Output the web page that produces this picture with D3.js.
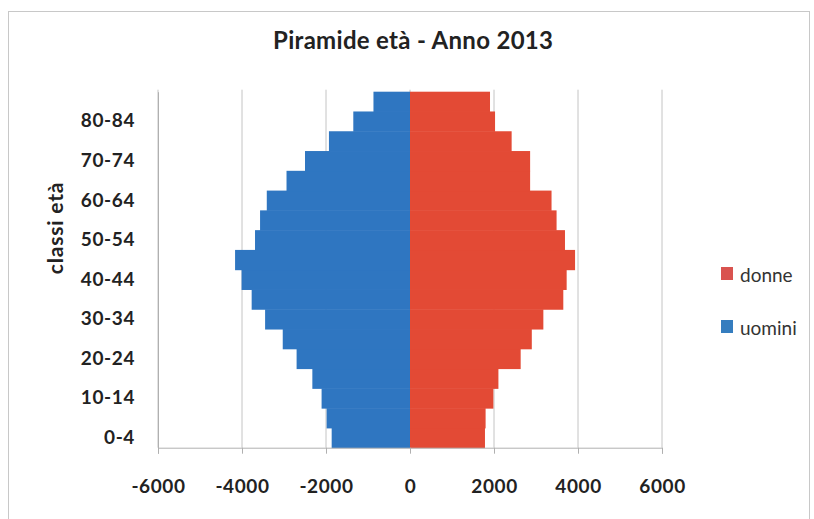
<!DOCTYPE html>
<html>
<head>
<meta charset="utf-8">
<script src="https://cdn.jsdelivr.net/npm/d3@7"></script>
<style>
  html, body { margin: 0; padding: 0; background: #fff; }
  svg { display: block; }
  text { font-family: Lato, "Open Sans", sans-serif; }
</style>
</head>
<body>
<svg id="chart" width="814" height="519"></svg>
<script>
// Age classes, youngest first
const classes = ["0-4","5-9","10-14","15-19","20-24","25-29","30-34","35-39","40-44",
                 "45-49","50-54","55-59","60-64","65-69","70-74","75-79","80-84","85+"];
// Residents per class, 2013
const uomini = [1865, 1985, 2105, 2325, 2700, 3030, 3450, 3770, 4010,
                4165, 3690, 3570, 3410, 2940, 2500, 1930, 1350, 870];
const donne  = [1785, 1800, 1985, 2105, 2635, 2900, 3175, 3650, 3730,
                3930, 3690, 3490, 3370, 2860, 2860, 2420, 2025, 1905];
const xTicks = [-6000, -4000, -2000, 0, 2000, 4000, 6000];
const shownClasses = ["0-4","10-14","20-24","30-34","40-44","50-54","60-64","70-74","80-84"];

const colors = { donne: "#e34a35", uomini: "#2f76c1" };
const legendColors = { donne: "#d9534f", uomini: "#357dbf" };

const svg = d3.select("#chart");
const plot = { left: 158, right: 662, top: 91.7, bottom: 447.7 };

// Outer chart frame
svg.append("rect")
  .attr("x", 8.5).attr("y", 11.5).attr("width", 801).attr("height", 600)
  .attr("fill", "none").attr("stroke", "#c8c8c8").attr("stroke-width", 1);

const x = d3.scaleLinear().domain([-6000, 6000]).range([plot.left, plot.right]);
const y = d3.scaleBand().domain(classes).range([plot.bottom, plot.top]).padding(0);

// Vertical gridlines
svg.append("g")
  .selectAll("line")
  .data(xTicks)
  .join("line")
  .attr("x1", d => x(d)).attr("x2", d => x(d))
  .attr("y1", plot.top - 2).attr("y2", plot.bottom)
  .attr("stroke", "#c4c4c4").attr("stroke-width", 1);

// Bars: men to the left, women to the right
const rows = classes.map((c, i) => ({ c, u: uomini[i], d: donne[i] }));
svg.append("g").selectAll("rect")
  .data(rows).join("rect")
  .attr("x", r => x(-r.u)).attr("width", r => x(0) - x(-r.u))
  .attr("y", r => y(r.c)).attr("height", y.bandwidth() + 0.5)
  .attr("fill", colors.uomini);
svg.append("g").selectAll("rect")
  .data(rows).join("rect")
  .attr("x", x(0)).attr("width", r => x(r.d) - x(0))
  .attr("y", r => y(r.c)).attr("height", y.bandwidth() + 0.5)
  .attr("fill", colors.donne);

// X axis
const xAxis = d3.axisBottom(x).tickValues(xTicks).tickSize(6).tickPadding(26)
  .tickFormat(d => String(d));
const gx = svg.append("g").attr("transform", `translate(0,${plot.bottom})`).call(xAxis);
gx.select(".domain").attr("stroke", "#b0b0b0");
gx.selectAll(".tick line").attr("stroke", "#b0b0b0");
gx.selectAll("text").attr("font-size", 19).attr("font-weight", "bold").attr("fill", "#222")
  .attr("letter-spacing", "0.6px")
  .style("font-family", "Lato, sans-serif");

// Y axis
const yAxis = d3.axisLeft(y).tickValues(shownClasses).tickSize(0).tickPadding(23);
const gy = svg.append("g").attr("transform", `translate(${plot.left},0)`).call(yAxis);
gy.select(".domain").attr("stroke", "#b0b0b0");
gy.selectAll("text").attr("font-size", 19).attr("font-weight", "bold").attr("fill", "#222")
  .attr("letter-spacing", "0.6px")
  .style("font-family", "Lato, sans-serif");

// Axis title
svg.append("text")
  .attr("transform", `translate(63,228) rotate(-90)`)
  .attr("text-anchor", "middle")
  .attr("font-size", 21).attr("font-weight", "bold").attr("fill", "#222")
  .attr("letter-spacing", "0.8px")
  .text("classi età");

// Chart title
svg.append("text")
  .attr("x", 413).attr("y", 49)
  .attr("text-anchor", "middle")
  .attr("font-size", 24).attr("font-weight", "bold").attr("fill", "#222")
  .attr("textLength", 280).attr("lengthAdjust", "spacing")
  .text("Piramide età - Anno 2013");

// Legend
const legend = [{ k: "donne", y0: 267 }, { k: "uomini", y0: 320 }];
const lg = svg.append("g").selectAll("g").data(legend).join("g");
lg.append("rect")
  .attr("x", 721).attr("y", d => d.y0).attr("width", 12).attr("height", 13)
  .attr("fill", d => legendColors[d.k]);
lg.append("text")
  .attr("x", 740).attr("y", d => d.y0 + 14.5)
  .attr("font-size", 19).attr("fill", "#333")
  .text(d => d.k);
</script>
</body>
</html>
